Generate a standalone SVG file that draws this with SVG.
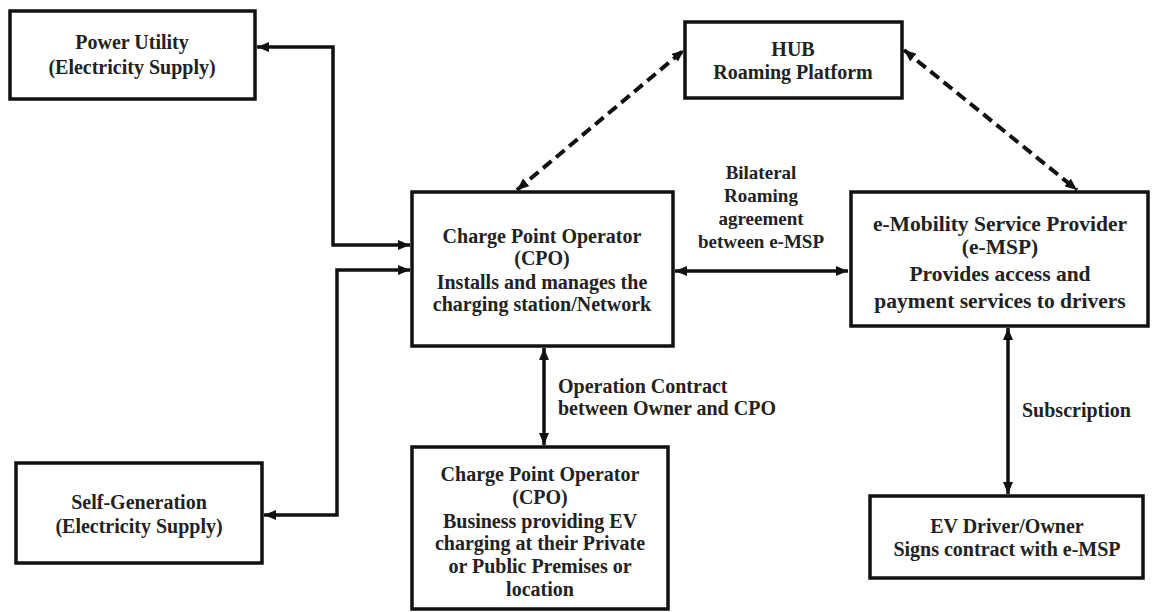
<svg xmlns="http://www.w3.org/2000/svg" width="1152" height="612" viewBox="0 0 1152 612">
<style>
.box{fill:#fff;stroke:#111;stroke-width:3.5}
.t{font-family:"Liberation Serif","Times New Roman",serif;font-weight:bold;font-size:20px;fill:#222;text-anchor:middle}
.tl{font-family:"Liberation Serif","Times New Roman",serif;font-weight:bold;font-size:20px;fill:#222}
.c{fill:none;stroke:#111;stroke-width:3.5}
.d{fill:none;stroke:#111;stroke-width:4;stroke-dasharray:11 6}
</style>
<defs>
<marker id="ah" viewBox="0 0 12 10" refX="12" refY="5" markerWidth="12" markerHeight="10" markerUnits="userSpaceOnUse" orient="auto-start-reverse">
<path d="M0,0 L12,5 L0,10 Z" fill="#111"/>
</marker>
</defs>
<rect width="1152" height="612" fill="#fff"/>
<g id="connectors">
<polyline class="c" points="410,245 333,245 333,47 257,47" marker-start="url(#ah)" marker-end="url(#ah)"/>
<polyline class="c" points="410,270 337,270 337,515 264,515" marker-start="url(#ah)" marker-end="url(#ah)"/>
<line class="c" x1="675" y1="271" x2="848" y2="271" marker-start="url(#ah)" marker-end="url(#ah)"/>
<line class="c" x1="544" y1="348" x2="544" y2="445" marker-start="url(#ah)" marker-end="url(#ah)"/>
<line class="c" x1="1008" y1="328" x2="1008" y2="494" marker-start="url(#ah)" marker-end="url(#ah)"/>
<line class="d" x1="517" y1="190" x2="684" y2="50" marker-start="url(#ah)" marker-end="url(#ah)"/>
<line class="d" x1="904" y1="50" x2="1077" y2="190" marker-start="url(#ah)" marker-end="url(#ah)"/>
</g>
<g id="power-utility">
<rect class="box" x="10" y="11" width="245" height="88"/>
<text class="t" x="132" y="49">Power Utility</text>
<text class="t" x="132" y="74">(Electricity Supply)</text>
</g>
<g id="self-generation">
<rect class="box" x="16" y="463" width="246" height="100"/>
<text class="t" x="139" y="509">Self-Generation</text>
<text class="t" x="139" y="533">(Electricity Supply)</text>
</g>
<g id="hub">
<rect class="box" x="685" y="22" width="217" height="76"/>
<text class="t" x="793" y="56">HUB</text>
<text class="t" x="793" y="79">Roaming Platform</text>
</g>
<g id="cpo">
<rect class="box" x="412" y="192" width="261" height="154"/>
<text class="t" x="542" y="243">Charge Point Operator</text>
<text class="t" x="542" y="265">(CPO)</text>
<text class="t" x="542" y="289">Installs and manages the</text>
<text class="t" x="542" y="311">charging station/Network</text>
</g>
<g id="emsp">
<rect class="box" x="851" y="192" width="297" height="134"/>
<text class="t" x="1000" y="231" style="font-size:21.5px">e-Mobility Service Provider</text>
<text class="t" x="1000" y="254" style="font-size:21.5px">(e-MSP)</text>
<text class="t" x="1000" y="281" style="font-size:21.5px">Provides access and</text>
<text class="t" x="1000" y="308" style="font-size:21.5px">payment services to drivers</text>
</g>
<g id="cpo-owner">
<rect class="box" x="412" y="447" width="256" height="162"/>
<text class="t" x="540" y="481">Charge Point Operator</text>
<text class="t" x="540" y="504">(CPO)</text>
<text class="t" x="540" y="528">Business providing EV</text>
<text class="t" x="540" y="550">charging at their Private</text>
<text class="t" x="540" y="573">or Public Premises or</text>
<text class="t" x="540" y="596">location</text>
</g>
<g id="ev-driver">
<rect class="box" x="870" y="496" width="273" height="82"/>
<text class="t" x="1007" y="533">EV Driver/Owner</text>
<text class="t" x="1007" y="556">Signs contract with e-MSP</text>
</g>
<g id="labels">
<text class="t" x="761" y="179" style="font-size:19px">Bilateral</text>
<text class="t" x="761" y="202" style="font-size:19px">Roaming</text>
<text class="t" x="761" y="225" style="font-size:19px">agreement</text>
<text class="t" x="761" y="248" style="font-size:19px">between e-MSP</text>
<text class="tl" x="558" y="393">Operation Contract</text>
<text class="tl" x="558" y="415">between Owner and CPO</text>
<text class="tl" x="1022" y="417">Subscription</text>
</g>
</svg>
